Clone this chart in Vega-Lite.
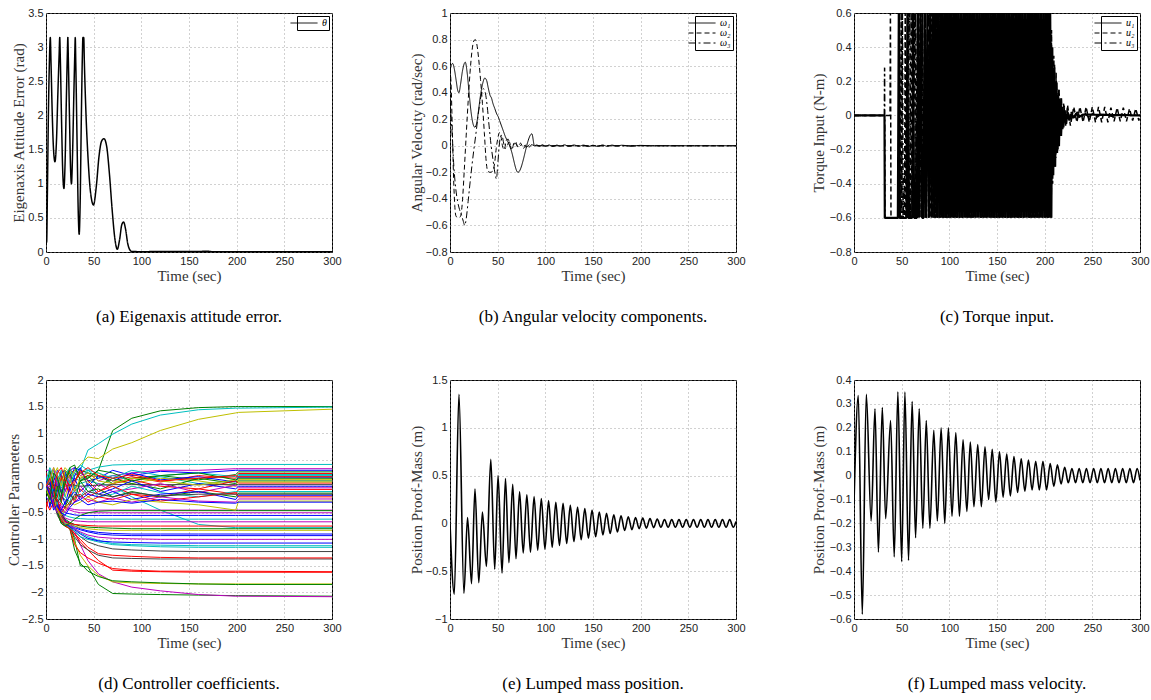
{
"$schema": "https://vega.github.io/schema/vega-lite/v6.json",
"background": "white",
"padding": {"left": 5, "top": 6, "right": 5, "bottom": 5},
"config": {
 "view": {"stroke": "black", "strokeWidth": 1},
 "axis": {"grid": true, "gridColor": "#8c8c8c", "gridDash": [1,3], "gridWidth": 0.8, "domain": false, "ticks": false, "labelFont": "Liberation Sans", "labelFontSize": 11, "labelColor": "#222", "labelPadding": 3, "labelFlush": false, "labelOverlap": false, "titleFont": "Liberation Serif", "titleFontSize": 15, "titleFontWeight": "normal", "titleColor": "#333", "format": "~g"},
 "axisX": {"titlePadding": 2, "format": "d"},
 "axisY": {"titlePadding": 1},
 "title": {"orient": "bottom", "anchor": "middle", "frame": "group", "font": "Liberation Serif", "fontSize": 17, "fontWeight": "normal", "color": "black", "offset": 26},
 "legend": {"orient": "top-right", "offset": 3, "padding": 2, "strokeColor": "black", "fillColor": "white", "symbolType": "M-3,0H3", "symbolStrokeColor": "black", "symbolFillColor": "transparent", "symbolStrokeWidth": 1, "symbolSize": 81, "labelFont": "Liberation Serif", "labelFontStyle": "italic", "labelFontSize": 10, "labelColor": "black", "rowPadding": -1, "labelOffset": 13}
},
"datasets": {
 "a": [{"t":0,"v":0.13},{"t":0.7,"v":0.15},{"t":1.5,"v":0.9},{"t":2.5,"v":2.0},{"t":3.5,"v":2.75},{"t":4.5,"v":3.14},{"t":5.3,"v":2.75},{"t":6.5,"v":2.05},{"t":7.9,"v":1.5},{"t":9.4,"v":1.32},{"t":10.9,"v":1.6},{"t":12.4,"v":2.3},{"t":13.8,"v":2.9},{"t":14.4,"v":3.14},{"t":15.0,"v":2.85},{"t":16.2,"v":2.0},{"t":17.5,"v":1.2},{"t":18.8,"v":0.93},{"t":20.0,"v":1.3},{"t":21.3,"v":2.2},{"t":22.4,"v":2.9},{"t":22.9,"v":3.14},{"t":23.4,"v":2.85},{"t":24.6,"v":2.0},{"t":25.7,"v":1.25},{"t":26.7,"v":1.0},{"t":27.8,"v":1.4},{"t":29.2,"v":2.3},{"t":30.2,"v":2.9},{"t":30.7,"v":3.14},{"t":31.2,"v":2.8},{"t":32.6,"v":1.6},{"t":33.8,"v":0.6},{"t":34.8,"v":0.26},{"t":35.8,"v":0.7},{"t":37.1,"v":2.0},{"t":38.2,"v":2.9},{"t":38.7,"v":3.14},{"t":39.6,"v":3.14},{"t":40.2,"v":2.8},{"t":42,"v":2.0},{"t":44,"v":1.4},{"t":46.5,"v":0.9},{"t":49.8,"v":0.69},{"t":52.7,"v":0.95},{"t":55.6,"v":1.4},{"t":58.2,"v":1.62},{"t":60.8,"v":1.66},{"t":63.6,"v":1.55},{"t":66.5,"v":1.15},{"t":69.5,"v":0.6},{"t":72.2,"v":0.2},{"t":74.8,"v":0.04},{"t":77.2,"v":0.18},{"t":79.5,"v":0.4},{"t":81.4,"v":0.44},{"t":83.4,"v":0.34},{"t":85.8,"v":0.12},{"t":88,"v":0.03},{"t":90,"v":0.008},{"t":100,"v":0.005},{"t":130,"v":0.008},{"t":150,"v":0.006},{"t":170,"v":0.01},{"t":175,"v":0.004},{"t":200,"v":0.003},{"t":300,"v":0.002}],
 "b": [
  {"s":"ω₁","t":0,"v":0.56},{"s":"ω₁","t":1.5,"v":0.61},{"s":"ω₁","t":2.8,"v":0.62},{"s":"ω₁","t":4.5,"v":0.58},{"s":"ω₁","t":6.5,"v":0.49},{"s":"ω₁","t":8,"v":0.42},{"s":"ω₁","t":9.4,"v":0.4},{"s":"ω₁","t":11,"v":0.46},{"s":"ω₁","t":13,"v":0.56},{"s":"ω₁","t":15,"v":0.62},{"s":"ω₁","t":16,"v":0.63},{"s":"ω₁","t":18,"v":0.55},{"s":"ω₁","t":20,"v":0.4},{"s":"ω₁","t":22,"v":0.26},{"s":"ω₁","t":24,"v":0.17},{"s":"ω₁","t":26,"v":0.14},{"s":"ω₁","t":28,"v":0.17},{"s":"ω₁","t":30,"v":0.27},{"s":"ω₁","t":32,"v":0.38},{"s":"ω₁","t":34,"v":0.46},{"s":"ω₁","t":36.5,"v":0.51},{"s":"ω₁","t":38.5,"v":0.49},{"s":"ω₁","t":40,"v":0.44},{"s":"ω₁","t":42,"v":0.38},{"s":"ω₁","t":43.5,"v":0.36},{"s":"ω₁","t":45,"v":0.32},{"s":"ω₁","t":47,"v":0.28},{"s":"ω₁","t":49,"v":0.24},{"s":"ω₁","t":50.5,"v":0.22},{"s":"ω₁","t":52,"v":0.19},{"s":"ω₁","t":54,"v":0.15},{"s":"ω₁","t":56,"v":0.11},{"s":"ω₁","t":58,"v":0.07},{"s":"ω₁","t":60,"v":0.04},{"s":"ω₁","t":62,"v":0.01},{"s":"ω₁","t":64,"v":-0.03},{"s":"ω₁","t":71.3,"v":-0.2},{"s":"ω₁","t":85.9,"v":0.09},{"s":"ω₁","t":88.6,"v":0.0},{"s":"ω₁","t":91,"v":0.006},{"s":"ω₁","t":94,"v":-0.004},{"s":"ω₁","t":97,"v":0.008},{"s":"ω₁","t":100,"v":-0.005},{"s":"ω₁","t":104,"v":0.006},{"s":"ω₁","t":108,"v":-0.006},{"s":"ω₁","t":112,"v":0.005},{"s":"ω₁","t":116,"v":-0.004},{"s":"ω₁","t":120,"v":0.007},{"s":"ω₁","t":125,"v":-0.005},{"s":"ω₁","t":130,"v":0.006},{"s":"ω₁","t":135,"v":-0.004},{"s":"ω₁","t":140,"v":0.005},{"s":"ω₁","t":145,"v":-0.006},{"s":"ω₁","t":150,"v":0.004},{"s":"ω₁","t":155,"v":-0.005},{"s":"ω₁","t":160,"v":0.006},{"s":"ω₁","t":165,"v":-0.004},{"s":"ω₁","t":170,"v":0.005},{"s":"ω₁","t":175,"v":-0.003},{"s":"ω₁","t":180,"v":0.004},{"s":"ω₁","t":190,"v":-0.003},{"s":"ω₁","t":200,"v":0.003},{"s":"ω₁","t":210,"v":0},{"s":"ω₁","t":300,"v":0},
  {"s":"ω₂","t":0,"v":0.58},{"s":"ω₂","t":1.2,"v":0.45},{"s":"ω₂","t":2.5,"v":0.1},{"s":"ω₂","t":3.8,"v":-0.25},{"s":"ω₂","t":5,"v":-0.45},{"s":"ω₂","t":6.3,"v":-0.53},{"s":"ω₂","t":8,"v":-0.54},{"s":"ω₂","t":10,"v":-0.54},{"s":"ω₂","t":11.5,"v":-0.52},{"s":"ω₂","t":13,"v":-0.42},{"s":"ω₂","t":15,"v":-0.18},{"s":"ω₂","t":17,"v":0.08},{"s":"ω₂","t":19,"v":0.33},{"s":"ω₂","t":21,"v":0.55},{"s":"ω₂","t":23,"v":0.71},{"s":"ω₂","t":25,"v":0.79},{"s":"ω₂","t":26.5,"v":0.8},{"s":"ω₂","t":28,"v":0.77},{"s":"ω₂","t":30,"v":0.66},{"s":"ω₂","t":32,"v":0.5},{"s":"ω₂","t":34,"v":0.32},{"s":"ω₂","t":36,"v":0.1},{"s":"ω₂","t":38,"v":-0.12},{"s":"ω₂","t":39.5,"v":-0.19},{"s":"ω₂","t":42,"v":-0.2},{"s":"ω₂","t":45,"v":-0.19},{"s":"ω₂","t":47,"v":-0.12},{"s":"ω₂","t":48.5,"v":-0.02},{"s":"ω₂","t":50,"v":0.05},{"s":"ω₂","t":52,"v":0.1},{"s":"ω₂","t":53.5,"v":0.07},{"s":"ω₂","t":55,"v":0.0},{"s":"ω₂","t":57,"v":-0.03},{"s":"ω₂","t":59,"v":0.04},{"s":"ω₂","t":61,"v":0.05},{"s":"ω₂","t":63,"v":0.0},{"s":"ω₂","t":65,"v":-0.03},{"s":"ω₂","t":67,"v":0.02},{"s":"ω₂","t":69,"v":0.03},{"s":"ω₂","t":71,"v":-0.01},{"s":"ω₂","t":74,"v":0.02},{"s":"ω₂","t":77,"v":-0.02},{"s":"ω₂","t":80,"v":0.01},{"s":"ω₂","t":83,"v":-0.01},{"s":"ω₂","t":86,"v":0.01},{"s":"ω₂","t":90,"v":0},{"s":"ω₂","t":300,"v":0},
  {"s":"ω₃","t":0,"v":0.35},{"s":"ω₃","t":2,"v":0.12},{"s":"ω₃","t":4,"v":-0.15},{"s":"ω₃","t":6,"v":-0.32},{"s":"ω₃","t":8,"v":-0.42},{"s":"ω₃","t":10,"v":-0.48},{"s":"ω₃","t":12,"v":-0.52},{"s":"ω₃","t":14,"v":-0.57},{"s":"ω₃","t":15.5,"v":-0.6},{"s":"ω₃","t":17,"v":-0.55},{"s":"ω₃","t":19,"v":-0.42},{"s":"ω₃","t":21,"v":-0.28},{"s":"ω₃","t":23,"v":-0.15},{"s":"ω₃","t":25,"v":-0.03},{"s":"ω₃","t":27,"v":0.08},{"s":"ω₃","t":29,"v":0.2},{"s":"ω₃","t":31,"v":0.31},{"s":"ω₃","t":33,"v":0.39},{"s":"ω₃","t":35,"v":0.43},{"s":"ω₃","t":37,"v":0.4},{"s":"ω₃","t":39,"v":0.3},{"s":"ω₃","t":41,"v":0.15},{"s":"ω₃","t":43,"v":0.01},{"s":"ω₃","t":45,"v":-0.1},{"s":"ω₃","t":47,"v":-0.2},{"s":"ω₃","t":48.7,"v":-0.25},{"s":"ω₃","t":50,"v":-0.15},{"s":"ω₃","t":51.5,"v":-0.01},{"s":"ω₃","t":53,"v":0.07},{"s":"ω₃","t":54.5,"v":0.08},{"s":"ω₃","t":56,"v":0.03},{"s":"ω₃","t":58,"v":-0.02},{"s":"ω₃","t":60,"v":0.0},{"s":"ω₃","t":62,"v":0.03},{"s":"ω₃","t":65,"v":-0.02},{"s":"ω₃","t":68,"v":0.02},{"s":"ω₃","t":72,"v":-0.01},{"s":"ω₃","t":76,"v":0.015},{"s":"ω₃","t":80,"v":-0.01},{"s":"ω₃","t":84,"v":0.01},{"s":"ω₃","t":90,"v":0},{"s":"ω₃","t":300,"v":0}
 ],
 "u1": [{"t":0,"v":0},{"t":32,"v":0},{"t":32.3,"v":-0.6},{"t":46,"v":-0.6},{"t":47,"v":0.6},{"t":48,"v":-0.6},{"t":55,"v":-0.6},{"t":56,"v":0.6},{"t":57,"v":-0.6},{"t":61,"v":-0.6},{"t":62,"v":0.6},{"t":63,"v":-0.6},{"t":66,"v":-0.6},{"t":67,"v":0.6},{"t":68,"v":-0.6},{"t":70,"v":0.6},{"t":71.5,"v":-0.6},{"t":73,"v":-0.6},{"t":74,"v":0.6},{"t":75.5,"v":-0.6},{"t":77,"v":0.6},{"t":78.5,"v":-0.6},{"t":80,"v":0.6},{"t":81.4,"v":-0.6},{"t":82.8,"v":0.6},{"t":84.2,"v":-0.6},{"t":85.5,"v":0.6},{"t":86.8,"v":-0.6},{"t":88.1,"v":0.6},{"t":89.4,"v":-0.6},{"t":90.6,"v":0.6},{"t":91.8,"v":-0.6},{"t":93,"v":0.6},{"t":94.2,"v":-0.6},{"t":95.4,"v":0.6},{"t":96.6,"v":-0.6},{"t":97.8,"v":0.6},{"t":99,"v":-0.6},{"t":100.2,"v":0.6},{"t":101.4,"v":-0.6},{"t":102.6,"v":0.6},{"t":103.8,"v":-0.6},{"t":105,"v":0.6},{"t":106.2,"v":-0.6},{"t":107.4,"v":0.6},{"t":108.6,"v":-0.6},{"t":109.8,"v":0.6},{"t":111,"v":-0.6},{"t":112.2,"v":0.6},{"t":113.4,"v":-0.6},{"t":114.6,"v":0.6},{"t":115.8,"v":-0.6},{"t":117,"v":0.6},{"t":118.2,"v":-0.6},{"t":119.4,"v":0.6},{"t":120.6,"v":-0.6},{"t":121.8,"v":0.6},{"t":123,"v":-0.6},{"t":124.2,"v":0.6},{"t":125.4,"v":-0.6},{"t":126.6,"v":0.6},{"t":127.8,"v":-0.6},{"t":129,"v":0.6},{"t":130.2,"v":-0.6},{"t":131.4,"v":0.6},{"t":132.6,"v":-0.6},{"t":133.8,"v":0.6},{"t":135,"v":-0.6},{"t":136.2,"v":0.6},{"t":137.4,"v":-0.6},{"t":138.6,"v":0.6},{"t":139.8,"v":-0.6},{"t":141,"v":0.6},{"t":142.2,"v":-0.6},{"t":143.4,"v":0.6},{"t":144.6,"v":-0.6},{"t":145.8,"v":0.6},{"t":147,"v":-0.6},{"t":148.2,"v":0.6},{"t":149.4,"v":-0.6},{"t":150.6,"v":0.6},{"t":151.8,"v":-0.6},{"t":153,"v":0.6},{"t":154.2,"v":-0.6},{"t":155.4,"v":0.6},{"t":156.6,"v":-0.6},{"t":157.8,"v":0.6},{"t":159,"v":-0.6},{"t":160.2,"v":0.6},{"t":161.4,"v":-0.6},{"t":162.6,"v":0.6},{"t":163.8,"v":-0.6},{"t":165,"v":0.6},{"t":166.2,"v":-0.6},{"t":167.4,"v":0.6},{"t":168.6,"v":-0.6},{"t":169.8,"v":0.6},{"t":171,"v":-0.6},{"t":172.2,"v":0.6},{"t":173.4,"v":-0.6},{"t":174.6,"v":0.6},{"t":175.8,"v":-0.6},{"t":177,"v":0.6},{"t":178.2,"v":-0.6},{"t":179.4,"v":0.6},{"t":180.6,"v":-0.6},{"t":181.8,"v":0.6},{"t":183,"v":-0.6},{"t":184.2,"v":0.6},{"t":185.4,"v":-0.6},{"t":186.6,"v":0.6},{"t":187.8,"v":-0.6},{"t":189,"v":0.6},{"t":190.2,"v":-0.6},{"t":191.4,"v":0.6},{"t":192.6,"v":-0.6},{"t":193.8,"v":0.6},{"t":195,"v":-0.6},{"t":196.2,"v":0.6},{"t":197.4,"v":-0.6},{"t":198.6,"v":0.6},{"t":199.8,"v":-0.6},{"t":201,"v":0.6},{"t":202.2,"v":-0.6},{"t":203.4,"v":0.6},{"t":204.6,"v":-0.6},{"t":205.8,"v":0.6},{"t":207,"v":-0.6},{"t":208,"v":0.4},{"t":209,"v":-0.35},{"t":210,"v":0.28},{"t":211,"v":-0.3},{"t":212,"v":0.2},{"t":213,"v":-0.22},{"t":214,"v":0.12},{"t":215,"v":-0.18},{"t":216,"v":0.08},{"t":217.2,"v":-0.12},{"t":218.4,"v":0.05},{"t":219.6,"v":-0.07},{"t":221,"v":0.03},{"t":222.5,"v":-0.05},{"t":224,"v":0.02},{"t":226,"v":-0.03},{"t":228,"v":0.01},{"t":230,"v":-0.015},{"t":233,"v":0.01},{"t":236,"v":-0.01},{"t":240,"v":0.005},{"t":300,"v":0}],
 "u2": [{"t":0,"v":0},{"t":37.8,"v":0},{"t":38.2,"v":0.6},{"t":38.8,"v":-0.6},{"t":47,"v":-0.6},{"t":47.6,"v":0.6},{"t":48.4,"v":-0.6},{"t":49.5,"v":0.6},{"t":50.3,"v":-0.6},{"t":53,"v":-0.6},{"t":53.7,"v":0.6},{"t":54.5,"v":-0.6},{"t":57,"v":0.6},{"t":58,"v":-0.6},{"t":60,"v":0.6},{"t":61,"v":-0.6},{"t":63.5,"v":0.6},{"t":64.5,"v":-0.6},{"t":66.5,"v":0.6},{"t":67.5,"v":-0.6},{"t":69.3,"v":0.6},{"t":70.3,"v":-0.6},{"t":72,"v":0.6},{"t":73,"v":-0.6},{"t":74.6,"v":0.6},{"t":75.6,"v":-0.6},{"t":77.2,"v":0.6},{"t":78.2,"v":-0.6},{"t":79.6,"v":0.6},{"t":80.6,"v":-0.6},{"t":82,"v":0.6},{"t":83,"v":-0.6},{"t":84.3,"v":0.6},{"t":85.3,"v":-0.6},{"t":86.5,"v":0.6},{"t":87.5,"v":-0.6},{"t":88.7,"v":0.6},{"t":89.7,"v":-0.6},{"t":90.9,"v":0.6},{"t":91.9,"v":-0.6},{"t":93,"v":0.6},{"t":94,"v":-0.6},{"t":95.4,"v":0.6},{"t":96.8,"v":-0.6},{"t":98.2,"v":0.6},{"t":99.6,"v":-0.6},{"t":101,"v":0.6},{"t":102.4,"v":-0.6},{"t":103.8,"v":0.6},{"t":105.2,"v":-0.6},{"t":106.6,"v":0.6},{"t":108,"v":-0.6},{"t":109.4,"v":0.6},{"t":110.8,"v":-0.6},{"t":112.2,"v":0.6},{"t":113.6,"v":-0.6},{"t":115,"v":0.6},{"t":116.4,"v":-0.6},{"t":117.8,"v":0.6},{"t":119.2,"v":-0.6},{"t":120.6,"v":0.6},{"t":122,"v":-0.6},{"t":123.4,"v":0.6},{"t":124.8,"v":-0.6},{"t":126.2,"v":0.6},{"t":127.6,"v":-0.6},{"t":129,"v":0.6},{"t":130.4,"v":-0.6},{"t":131.8,"v":0.6},{"t":133.2,"v":-0.6},{"t":134.6,"v":0.6},{"t":136,"v":-0.6},{"t":137.4,"v":0.6},{"t":138.8,"v":-0.6},{"t":140.2,"v":0.6},{"t":141.6,"v":-0.6},{"t":143,"v":0.6},{"t":144.4,"v":-0.6},{"t":145.8,"v":0.6},{"t":147.2,"v":-0.6},{"t":148.6,"v":0.6},{"t":150,"v":-0.6},{"t":151.4,"v":0.6},{"t":152.8,"v":-0.6},{"t":154.2,"v":0.6},{"t":155.6,"v":-0.6},{"t":157,"v":0.6},{"t":158.4,"v":-0.6},{"t":159.8,"v":0.6},{"t":161.2,"v":-0.6},{"t":162.6,"v":0.6},{"t":164,"v":-0.6},{"t":165.4,"v":0.6},{"t":166.8,"v":-0.6},{"t":168.2,"v":0.6},{"t":169.6,"v":-0.6},{"t":171,"v":0.6},{"t":172.4,"v":-0.6},{"t":173.8,"v":0.6},{"t":175.2,"v":-0.6},{"t":176.6,"v":0.6},{"t":178,"v":-0.6},{"t":179.4,"v":0.6},{"t":180.8,"v":-0.6},{"t":182.2,"v":0.6},{"t":183.6,"v":-0.6},{"t":185,"v":0.6},{"t":186.4,"v":-0.6},{"t":187.8,"v":0.6},{"t":189.2,"v":-0.6},{"t":190.6,"v":0.6},{"t":192,"v":-0.6},{"t":193.4,"v":0.6},{"t":194.8,"v":-0.6},{"t":196.2,"v":0.6},{"t":197.6,"v":-0.6},{"t":199,"v":0.6},{"t":200.4,"v":-0.6},{"t":201.8,"v":0.6},{"t":203.2,"v":-0.6},{"t":204.6,"v":0.6},{"t":206,"v":-0.6},{"t":207.2,"v":0.5},{"t":208.4,"v":-0.4},{"t":209.6,"v":0.35},{"t":210.8,"v":-0.3},{"t":212,"v":0.25},{"t":213.2,"v":-0.2},{"t":214.4,"v":0.15},{"t":215.6,"v":-0.12},{"t":217,"v":0.1},{"t":218.4,"v":-0.08},{"t":220,"v":0.07},{"t":222,"v":-0.06},{"t":224,"v":0.06},{"t":227,"v":-0.06},{"t":230.5,"v":0.05},{"t":233.8,"v":-0.04},{"t":237,"v":0.05},{"t":240.3,"v":-0.04},{"t":243.5,"v":0.05},{"t":246.8,"v":-0.04},{"t":250,"v":0.05},{"t":253.3,"v":-0.04},{"t":256.5,"v":0.05},{"t":259.8,"v":-0.04},{"t":263,"v":0.05},{"t":266.3,"v":-0.04},{"t":269.5,"v":0.045},{"t":272.8,"v":-0.035},{"t":276,"v":0.045},{"t":279.3,"v":-0.035},{"t":282.5,"v":0.045},{"t":285.8,"v":-0.035},{"t":289,"v":0.04},{"t":292.3,"v":-0.03},{"t":295.5,"v":0.04},{"t":298.8,"v":-0.03},{"t":300,"v":0}],
 "u3": [{"t":0,"v":0},{"t":31.8,"v":0},{"t":32.1,"v":0.28},{"t":32.5,"v":-0.6},{"t":50,"v":-0.6},{"t":50.8,"v":0.6},{"t":51.6,"v":-0.6},{"t":58.5,"v":0.6},{"t":59.3,"v":-0.6},{"t":64.5,"v":0.6},{"t":65.3,"v":-0.6},{"t":68,"v":0.6},{"t":69,"v":-0.6},{"t":71.5,"v":0.6},{"t":72.5,"v":-0.6},{"t":75,"v":0.6},{"t":76,"v":-0.6},{"t":78.3,"v":0.6},{"t":79.3,"v":-0.6},{"t":81.3,"v":0.6},{"t":82.3,"v":-0.6},{"t":84,"v":0.6},{"t":85,"v":-0.6},{"t":86.8,"v":0.6},{"t":87.8,"v":-0.6},{"t":89.4,"v":0.6},{"t":90.4,"v":-0.6},{"t":92,"v":0.6},{"t":93,"v":-0.6},{"t":94.6,"v":0.6},{"t":95.6,"v":-0.6},{"t":97.1,"v":0.6},{"t":98.1,"v":-0.6},{"t":99.6,"v":0.6},{"t":101.2,"v":-0.6},{"t":102.8,"v":0.6},{"t":104.4,"v":-0.6},{"t":106,"v":0.6},{"t":107.6,"v":-0.6},{"t":109.2,"v":0.6},{"t":110.8,"v":-0.6},{"t":112.4,"v":0.6},{"t":114,"v":-0.6},{"t":115.6,"v":0.6},{"t":117.2,"v":-0.6},{"t":118.8,"v":0.6},{"t":120.4,"v":-0.6},{"t":122,"v":0.6},{"t":123.6,"v":-0.6},{"t":125.2,"v":0.6},{"t":126.8,"v":-0.6},{"t":128.4,"v":0.6},{"t":130,"v":-0.6},{"t":131.6,"v":0.6},{"t":133.2,"v":-0.6},{"t":134.8,"v":0.6},{"t":136.4,"v":-0.6},{"t":138,"v":0.6},{"t":139.6,"v":-0.6},{"t":141.2,"v":0.6},{"t":142.8,"v":-0.6},{"t":144.4,"v":0.6},{"t":146,"v":-0.6},{"t":147.6,"v":0.6},{"t":149.2,"v":-0.6},{"t":150.8,"v":0.6},{"t":152.4,"v":-0.6},{"t":154,"v":0.6},{"t":155.6,"v":-0.6},{"t":157.2,"v":0.6},{"t":158.8,"v":-0.6},{"t":160.4,"v":0.6},{"t":162,"v":-0.6},{"t":163.6,"v":0.6},{"t":165.2,"v":-0.6},{"t":166.8,"v":0.6},{"t":168.4,"v":-0.6},{"t":170,"v":0.6},{"t":171.6,"v":-0.6},{"t":173.2,"v":0.6},{"t":174.8,"v":-0.6},{"t":176.4,"v":0.6},{"t":178,"v":-0.6},{"t":179.6,"v":0.6},{"t":181.2,"v":-0.6},{"t":182.8,"v":0.6},{"t":184.4,"v":-0.6},{"t":186,"v":0.6},{"t":187.6,"v":-0.6},{"t":189.2,"v":0.6},{"t":190.8,"v":-0.6},{"t":192.4,"v":0.6},{"t":194,"v":-0.6},{"t":195.6,"v":0.6},{"t":197.2,"v":-0.6},{"t":198.8,"v":0.6},{"t":200.4,"v":-0.6},{"t":202,"v":0.6},{"t":203.6,"v":-0.6},{"t":205.2,"v":0.6},{"t":206.8,"v":-0.6},{"t":208,"v":0.35},{"t":209.2,"v":-0.3},{"t":210.4,"v":0.3},{"t":211.6,"v":-0.25},{"t":212.8,"v":0.2},{"t":214,"v":-0.2},{"t":215.2,"v":0.15},{"t":216.4,"v":-0.12},{"t":217.6,"v":0.1},{"t":219,"v":-0.08},{"t":220.5,"v":0.06},{"t":222,"v":-0.05},{"t":224,"v":0.03},{"t":226,"v":-0.03},{"t":228,"v":0.02},{"t":231,"v":-0.02},{"t":234,"v":0.02},{"t":238,"v":-0.015},{"t":242,"v":0.015},{"t":246,"v":-0.01},{"t":250,"v":0.01},{"t":255,"v":-0.01},{"t":260,"v":0.01},{"t":270,"v":-0.005},{"t":280,"v":0.005},{"t":300,"v":0}],
 "d": [
  {"t":0,"c01":0,"c02":0,"c03":0,"c04":0,"c05":0,"c06":0,"c07":0,"c08":0,"c09":0,"c10":0,"c11":0,"c12":0,"c13":0,"c14":0,"c15":0,"c16":0,"c17":0,"c18":0,"c19":0,"c20":0,"c21":0,"c22":0,"c23":0,"c24":0,"c25":0,"c26":0,"c27":0,"c28":0,"c29":0,"c30":0.3,"c31":-0.2,"c32":0,"c33":0.25,"c34":0,"c35":0,"c36":0,"c37":0,"c38":-0.45,"c39":0,"c40":0.2,"c41":0,"c42":0,"c43":0,"c44":0,"c45":0,"c46":-0.3,"c47":0,"c48":0,"c49":0,"c50":0.1,"c51":0,"c52":0,"c53":-0.1,"c54":0},
  {"t":4,"c01":0.1,"c02":-0.1,"c03":0.2,"c04":0.1,"c05":-0.1,"c06":-0.1,"c07":-0.2,"c08":-0.1,"c09":0.1,"c10":-0.15,"c11":-0.05,"c12":-0.1,"c13":0.05,"c14":-0.2,"c15":-0.1,"c16":0.1,"c17":-0.15,"c18":0.05,"c19":-0.1,"c20":0.1,"c21":-0.2,"c22":-0.05,"c23":0.1,"c24":-0.1,"c25":0.15,"c26":-0.2,"c27":0.1,"c28":-0.1,"c29":0.05,"c30":0.3,"c31":-0.3,"c32":0.2,"c33":-0.35,"c34":0.25,"c35":0.1,"c36":-0.2,"c37":0.3,"c38":-0.1,"c39":0.05,"c40":-0.4,"c41":0.15,"c42":-0.25,"c43":0.2,"c44":-0.3,"c45":0.1,"c46":-0.45,"c47":0,"c48":-0.3,"c49":-0.15,"c50":0.35,"c51":0.1,"c52":-0.05,"c53":-0.25,"c54":0.15},
  {"t":8,"c01":-0.2,"c02":0.2,"c03":0.3,"c04":-0.2,"c05":0.1,"c06":-0.3,"c07":-0.1,"c08":-0.25,"c09":-0.2,"c10":-0.3,"c11":-0.2,"c12":-0.3,"c13":-0.25,"c14":-0.3,"c15":-0.15,"c16":-0.2,"c17":-0.35,"c18":-0.2,"c19":-0.3,"c20":-0.1,"c21":-0.25,"c22":-0.2,"c23":-0.15,"c24":-0.3,"c25":-0.1,"c26":-0.25,"c27":-0.2,"c28":-0.15,"c29":-0.3,"c30":0.1,"c31":0.1,"c32":-0.1,"c33":-0.2,"c34":0.3,"c35":-0.3,"c36":0.2,"c37":0,"c38":-0.4,"c39":0.02,"c40":-0.1,"c41":0.35,"c42":-0.1,"c43":-0.2,"c44":-0.35,"c45":-0.25,"c46":-0.3,"c47":-0.35,"c48":-0.2,"c49":-0.45,"c50":0.2,"c51":0.35,"c52":-0.2,"c53":0.25,"c54":-0.05},
  {"t":12,"c01":0.05,"c02":0.1,"c03":-0.1,"c04":0.2,"c05":0,"c06":-0.5,"c07":-0.4,"c08":-0.45,"c09":-0.5,"c10":-0.5,"c11":-0.45,"c12":-0.4,"c13":-0.5,"c14":-0.55,"c15":-0.4,"c16":-0.35,"c17":-0.5,"c18":-0.45,"c19":-0.4,"c20":-0.3,"c21":-0.45,"c22":-0.35,"c23":-0.4,"c24":-0.35,"c25":-0.3,"c26":-0.3,"c27":-0.25,"c28":-0.3,"c29":-0.5,"c30":0.2,"c31":0.3,"c32":-0.2,"c33":0.1,"c34":0.05,"c35":-0.1,"c36":0.35,"c37":-0.3,"c38":-0.2,"c39":0,"c40":0.2,"c41":0,"c42":-0.45,"c43":-0.35,"c44":0,"c45":-0.4,"c46":-0.25,"c47":-0.5,"c48":-0.45,"c49":-0.35,"c50":0.1,"c51":0.2,"c52":-0.3,"c53":0.15,"c54":0.25},
  {"t":16,"c01":-0.3,"c02":0.3,"c03":0.2,"c04":0.1,"c05":-0.1,"c06":-0.65,"c07":-0.6,"c08":-0.6,"c09":-0.7,"c10":-0.65,"c11":-0.6,"c12":-0.6,"c13":-0.62,"c14":-0.68,"c15":-0.55,"c16":-0.5,"c17":-0.6,"c18":-0.58,"c19":-0.55,"c20":-0.5,"c21":-0.6,"c22":-0.52,"c23":-0.55,"c24":-0.48,"c25":-0.45,"c26":-0.42,"c27":-0.35,"c28":-0.38,"c29":-0.7,"c30":-0.1,"c31":0.2,"c32":0.1,"c33":0.2,"c34":-0.3,"c35":0.25,"c36":0.1,"c37":-0.2,"c38":0.15,"c39":-0.02,"c40":-0.1,"c41":-0.25,"c42":-0.3,"c43":0.1,"c44":-0.3,"c45":-0.45,"c46":-0.5,"c47":-0.4,"c48":-0.55,"c49":-0.5,"c50":0.3,"c51":0,"c52":-0.2,"c53":-0.15,"c54":0.35},
  {"t":20,"c01":0.1,"c02":0.2,"c03":0.35,"c04":0.25,"c05":0.05,"c06":-0.75,"c07":-0.7,"c08":-0.72,"c09":-0.75,"c10":-0.75,"c11":-0.7,"c12":-0.72,"c13":-0.74,"c14":-0.7,"c15":-0.72,"c16":-0.65,"c17":-0.7,"c18":-0.68,"c19":-0.66,"c20":-0.64,"c21":-0.7,"c22":-0.62,"c23":-0.66,"c24":-0.6,"c25":-0.55,"c26":-0.5,"c27":-0.42,"c28":-0.4,"c29":-0.75,"c30":0.15,"c31":-0.1,"c32":0.3,"c33":0.05,"c34":0.2,"c35":0.3,"c36":-0.2,"c37":0.2,"c38":0.1,"c39":0,"c40":-0.35,"c41":-0.1,"c42":0.05,"c43":-0.2,"c44":-0.4,"c45":-0.3,"c46":-0.4,"c47":-0.5,"c48":-0.45,"c49":-0.55,"c50":0.2,"c51":0.3,"c52":-0.25,"c53":0.05,"c54":0.15},
  {"t":25,"c01":0.2,"c02":0.3,"c03":0.25,"c04":0.3,"c05":0.1,"c06":-0.75,"c07":-0.78,"c08":-0.8,"c09":-0.8,"c10":-0.8,"c11":-0.76,"c12":-0.78,"c13":-0.78,"c14":-0.77,"c15":-0.78,"c16":-0.75,"c17":-0.76,"c18":-0.74,"c19":-0.72,"c20":-0.7,"c21":-0.72,"c22":-0.68,"c23":-0.7,"c24":-0.63,"c25":-0.58,"c26":-0.52,"c27":-0.45,"c28":-0.42,"c29":-0.7,"c30":0.3,"c31":0.1,"c32":0.2,"c33":0.3,"c34":0.35,"c35":-0.1,"c36":0.1,"c37":0.25,"c38":-0.2,"c39":0.03,"c40":0,"c41":0.2,"c42":-0.1,"c43":-0.3,"c44":-0.15,"c45":-0.2,"c46":-0.3,"c47":-0.35,"c48":-0.3,"c49":-0.4,"c50":0.05,"c51":0.15,"c52":-0.35,"c53":0.35,"c54":0},
  {"t":30,"c01":0.3,"c02":0.35,"c03":0.3,"c04":0.2,"c05":0,"c06":-1.0,"c07":-0.85,"c08":-1.05,"c09":-1.2,"c10":-1.1,"c11":-0.9,"c12":-0.95,"c13":-0.9,"c14":-0.85,"c15":-0.85,"c16":-0.8,"c17":-0.82,"c18":-0.8,"c19":-0.78,"c20":-0.75,"c21":-0.75,"c22":-0.72,"c23":-0.72,"c24":-0.65,"c25":-0.6,"c26":-0.54,"c27":-0.48,"c28":-0.44,"c29":-0.62,"c30":0.35,"c31":0.35,"c32":0.1,"c33":0.25,"c34":0.15,"c35":0.2,"c36":0.3,"c37":-0.05,"c38":0.05,"c39":0.02,"c40":0.15,"c41":-0.1,"c42":-0.3,"c43":0,"c44":-0.25,"c45":-0.1,"c46":-0.2,"c47":-0.3,"c48":-0.35,"c49":-0.3,"c50":0.25,"c51":-0.1,"c52":-0.15,"c53":0.4,"c54":0.1},
  {"t":36,"c01":0.25,"c02":0.3,"c03":0.4,"c04":0.25,"c05":0.05,"c06":-1.5,"c07":-1.1,"c08":-1.3,"c09":-1.45,"c10":-1.25,"c11":-1.05,"c12":-1.1,"c13":-1.0,"c14":-0.95,"c15":-0.95,"c16":-0.88,"c17":-0.9,"c18":-0.86,"c19":-0.82,"c20":-0.8,"c21":-0.78,"c22":-0.75,"c23":-0.73,"c24":-0.66,"c25":-0.61,"c26":-0.55,"c27":-0.5,"c28":-0.45,"c29":-0.55,"c30":0.2,"c31":0.3,"c32":0.3,"c33":0.15,"c34":0.1,"c35":0.35,"c36":0.2,"c37":0.1,"c38":0.3,"c39":0,"c40":-0.1,"c41":0,"c42":-0.05,"c43":-0.2,"c44":0.1,"c45":-0.25,"c46":-0.15,"c47":-0.2,"c48":-0.3,"c49":-0.25,"c50":0.4,"c51":0.15,"c52":-0.2,"c53":0.1,"c54":0.25},
  {"t":44,"c01":0.15,"c02":0.68,"c03":0.55,"c04":0.3,"c05":0.1,"c06":-1.52,"c07":-1.4,"c08":-1.5,"c09":-1.6,"c10":-1.35,"c11":-1.2,"c12":-1.2,"c13":-1.15,"c14":-1.05,"c15":-1.0,"c16":-0.95,"c17":-0.98,"c18":-0.92,"c19":-0.86,"c20":-0.84,"c21":-0.8,"c22":-0.77,"c23":-0.74,"c24":-0.67,"c25":-0.62,"c26":-0.55,"c27":-0.5,"c28":-0.45,"c29":-0.5,"c30":0.25,"c31":0.1,"c32":0.25,"c33":0.2,"c34":0.3,"c35":0,"c36":0.05,"c37":0.2,"c38":0.1,"c39":0.01,"c40":0.05,"c41":-0.15,"c42":-0.2,"c43":0,"c44":-0.1,"c45":-0.15,"c46":-0.3,"c47":-0.25,"c48":-0.2,"c49":-0.35,"c50":0.3,"c51":0.25,"c52":-0.1,"c53":0.15,"c54":0.35},
  {"t":55,"c01":0.3,"c02":0.8,"c03":0.52,"c04":0.36,"c05":0.05,"c06":-1.85,"c07":-1.65,"c08":-1.68,"c09":-1.7,"c10":-1.45,"c11":-1.4,"c12":-1.3,"c13":-1.27,"c14":-1.12,"c15":-1.05,"c16":-1.02,"c17":-1.03,"c18":-0.96,"c19":-0.9,"c20":-0.87,"c21":-0.82,"c22":-0.78,"c23":-0.75,"c24":-0.67,"c25":-0.62,"c26":-0.55,"c27":-0.5,"c28":-0.45,"c29":-0.47,"c30":0.1,"c31":0.15,"c32":0.2,"c33":0.18,"c34":0.15,"c35":0.2,"c36":0.25,"c37":0,"c38":-0.1,"c39":0.02,"c40":-0.15,"c41":0.05,"c42":-0.1,"c43":-0.2,"c44":-0.05,"c45":-0.2,"c46":-0.2,"c47":-0.3,"c48":-0.3,"c49":-0.3,"c50":0.25,"c51":0.1,"c52":-0.15,"c53":0.3,"c54":0.2},
  {"t":70,"c01":1.05,"c02":0.98,"c03":0.7,"c04":0.4,"c05":0,"c06":-2.02,"c07":-1.8,"c08":-1.8,"c09":-1.78,"c10":-1.55,"c11":-1.58,"c12":-1.35,"c13":-1.3,"c14":-1.18,"c15":-1.1,"c16":-1.08,"c17":-1.05,"c18":-0.98,"c19":-0.92,"c20":-0.89,"c21":-0.83,"c22":-0.79,"c23":-0.75,"c24":-0.67,"c25":-0.62,"c26":-0.55,"c27":-0.5,"c28":-0.45,"c29":-0.46,"c30":0.2,"c31":0.3,"c32":0.05,"c33":0.1,"c34":0.2,"c35":0.1,"c36":0.1,"c37":0.15,"c38":0.05,"c39":0.03,"c40":-0.05,"c41":-0.1,"c42":0,"c43":-0.15,"c44":-0.2,"c45":-0.1,"c46":-0.25,"c47":-0.22,"c48":-0.35,"c49":-0.28,"c50":0.15,"c51":0.05,"c52":-0.2,"c53":0.25,"c54":0.15},
  {"t":90,"c01":1.28,"c02":1.17,"c03":0.82,"c04":0.41,"c05":-0.2,"c06":-2.03,"c07":-1.9,"c08":-1.82,"c09":-1.8,"c10":-1.58,"c11":-1.6,"c12":-1.36,"c13":-1.32,"c14":-1.2,"c15":-1.12,"c16":-1.1,"c17":-1.06,"c18":-0.99,"c19":-0.93,"c20":-0.9,"c21":-0.83,"c22":-0.8,"c23":-0.75,"c24":-0.67,"c25":-0.62,"c26":-0.55,"c27":-0.5,"c28":-0.45,"c29":-0.46,"c30":0.25,"c31":0.2,"c32":0.15,"c33":0.18,"c34":0.1,"c35":0.25,"c36":0.05,"c37":0.05,"c38":0.12,"c39":0.03,"c40":0.1,"c41":-0.05,"c42":-0.15,"c43":0,"c44":-0.1,"c45":-0.25,"c46":-0.15,"c47":-0.3,"c48":-0.25,"c49":-0.32,"c50":0.3,"c51":0.15,"c52":-0.12,"c53":0.1,"c54":0.22},
  {"t":120,"c01":1.42,"c02":1.34,"c03":1.05,"c04":0.41,"c05":-0.45,"c06":-2.04,"c07":-1.97,"c08":-1.83,"c09":-1.82,"c10":-1.6,"c11":-1.61,"c12":-1.37,"c13":-1.34,"c14":-1.22,"c15":-1.14,"c16":-1.11,"c17":-1.07,"c18":-1.0,"c19":-0.93,"c20":-0.9,"c21":-0.83,"c22":-0.8,"c23":-0.75,"c24":-0.67,"c25":-0.62,"c26":-0.55,"c27":-0.5,"c28":-0.45,"c29":-0.46,"c30":0.3,"c31":0.28,"c32":0.2,"c33":0.08,"c34":0.18,"c35":0.12,"c36":0.15,"c37":-0.05,"c38":0,"c39":0.03,"c40":-0.1,"c41":0.05,"c42":-0.2,"c43":-0.12,"c44":-0.2,"c45":-0.15,"c46":-0.28,"c47":-0.2,"c48":-0.3,"c49":-0.25,"c50":0.2,"c51":0.1,"c52":-0.18,"c53":0.2,"c54":0.1},
  {"t":160,"c01":1.48,"c02":1.44,"c03":1.26,"c04":0.41,"c05":-0.72,"c06":-2.05,"c07":-2.04,"c08":-1.84,"c09":-1.84,"c10":-1.6,"c11":-1.62,"c12":-1.37,"c13":-1.35,"c14":-1.23,"c15":-1.15,"c16":-1.12,"c17":-1.07,"c18":-1.0,"c19":-0.93,"c20":-0.9,"c21":-0.83,"c22":-0.8,"c23":-0.75,"c24":-0.67,"c25":-0.62,"c26":-0.55,"c27":-0.5,"c28":-0.45,"c29":-0.46,"c30":0.3,"c31":0.25,"c32":0.12,"c33":0.2,"c34":0.05,"c35":0.18,"c36":0.1,"c37":0.15,"c38":-0.05,"c39":0.03,"c40":0.05,"c41":-0.12,"c42":-0.05,"c43":-0.2,"c44":-0.1,"c45":-0.1,"c46":-0.2,"c47":-0.28,"c48":-0.35,"c49":-0.3,"c50":0.25,"c51":0.02,"c52":-0.15,"c53":0.25,"c54":0.15},
  {"t":199,"c01":1.5,"c02":1.47,"c03":1.38,"c04":0.41,"c05":-0.78,"c06":-2.06,"c07":-2.07,"c08":-1.84,"c09":-1.85,"c10":-1.6,"c11":-1.62,"c12":-1.37,"c13":-1.35,"c14":-1.23,"c15":-1.15,"c16":-1.12,"c17":-1.07,"c18":-1.0,"c19":-0.93,"c20":-0.9,"c21":-0.83,"c22":-0.8,"c23":-0.75,"c24":-0.67,"c25":-0.62,"c26":-0.55,"c27":-0.5,"c28":-0.45,"c29":-0.46,"c30":0.33,"c31":0.3,"c32":0.22,"c33":0.15,"c34":0.1,"c35":0.08,"c36":0,"c37":0.05,"c38":0.1,"c39":0.03,"c40":-0.05,"c41":0.02,"c42":-0.15,"c43":-0.1,"c44":-0.2,"c45":-0.25,"c46":-0.12,"c47":-0.3,"c48":-0.45,"c49":-0.32,"c50":0.18,"c51":0.12,"c52":-0.15,"c53":0.12,"c54":0.2},
  {"t":202,"c01":1.5,"c02":1.47,"c03":1.39,"c04":0.41,"c05":-0.78,"c06":-2.06,"c07":-2.07,"c08":-1.84,"c09":-1.85,"c10":-1.6,"c11":-1.62,"c12":-1.37,"c13":-1.35,"c14":-1.23,"c15":-1.15,"c16":-1.12,"c17":-1.07,"c18":-1.0,"c19":-0.93,"c20":-0.9,"c21":-0.83,"c22":-0.8,"c23":-0.75,"c24":-0.67,"c25":-0.62,"c26":-0.55,"c27":-0.5,"c28":-0.45,"c29":-0.46,"c30":0.33,"c31":0.3,"c32":0.27,"c33":0.24,"c34":0.2,"c35":0.17,"c36":0.13,"c37":0.1,"c38":0.06,"c39":0.03,"c40":0,"c41":-0.03,"c42":-0.06,"c43":-0.1,"c44":-0.13,"c45":-0.17,"c46":-0.2,"c47":-0.24,"c48":-0.28,"c49":-0.3,"c50":0.22,"c51":0.08,"c52":-0.15,"c53":0.15,"c54":0.18},
  {"t":300,"c01":1.5,"c02":1.49,"c03":1.45,"c04":0.41,"c05":-0.78,"c06":-2.07,"c07":-2.08,"c08":-1.84,"c09":-1.85,"c10":-1.61,"c11":-1.62,"c12":-1.37,"c13":-1.35,"c14":-1.23,"c15":-1.15,"c16":-1.12,"c17":-1.07,"c18":-1.0,"c19":-0.93,"c20":-0.9,"c21":-0.83,"c22":-0.8,"c23":-0.75,"c24":-0.67,"c25":-0.62,"c26":-0.55,"c27":-0.5,"c28":-0.45,"c29":-0.46,"c30":0.33,"c31":0.3,"c32":0.27,"c33":0.24,"c34":0.2,"c35":0.17,"c36":0.13,"c37":0.1,"c38":0.06,"c39":0.03,"c40":0,"c41":-0.03,"c42":-0.06,"c43":-0.1,"c44":-0.13,"c45":-0.17,"c46":-0.2,"c47":-0.24,"c48":-0.28,"c49":-0.3,"c50":0.22,"c51":0.08,"c52":-0.15,"c53":0.15,"c54":0.18}
 ],
 "e": [{"t":0,"v":0},{"t":4.5,"v":-0.74},{"t":9.4,"v":1.35},{"t":14.6,"v":-0.73},{"t":18.4,"v":0.06},{"t":22.6,"v":-0.63},{"t":26.2,"v":0.36},{"t":30.2,"v":-0.62},{"t":34,"v":0.12},{"t":38.2,"v":-0.45},{"t":42.8,"v":0.67},{"t":46.9,"v":-0.48},{"t":50.4,"v":0.5},{"t":54.6,"v":-0.52},{"t":58.2,"v":0.47},{"t":61.8,"v":-0.41},{"t":65.8,"v":0.41},{"t":69.2,"v":-0.37},{"t":73,"v":0.33},{"t":76.8,"v":-0.31},{"t":80.6,"v":0.3},{"t":84.4,"v":-0.3},{"t":88.2,"v":0.28},{"t":92,"v":-0.28},{"t":95.8,"v":0.26},{"t":99.6,"v":-0.27},{"t":103.4,"v":0.24},{"t":107.2,"v":-0.25},{"t":111,"v":0.22},{"t":114.8,"v":-0.23},{"t":118.6,"v":0.21},{"t":122.4,"v":-0.21},{"t":126.2,"v":0.19},{"t":130,"v":-0.19},{"t":133.8,"v":0.17},{"t":137.6,"v":-0.17},{"t":141.4,"v":0.155},{"t":145.2,"v":-0.155},{"t":149,"v":0.14},{"t":152.8,"v":-0.14},{"t":156.6,"v":0.12},{"t":160.4,"v":-0.12},{"t":164.2,"v":0.105},{"t":168,"v":-0.105},{"t":171.8,"v":0.09},{"t":175.6,"v":-0.09},{"t":179.4,"v":0.08},{"t":183.2,"v":-0.075},{"t":187,"v":0.07},{"t":190.8,"v":-0.065},{"t":194.6,"v":0.06},{"t":198.4,"v":-0.055},{"t":202.2,"v":0.055},{"t":206,"v":-0.05},{"t":209.8,"v":0.05},{"t":213.6,"v":-0.045},{"t":217.4,"v":0.045},{"t":221.2,"v":-0.04},{"t":225,"v":0.04},{"t":228.8,"v":-0.04},{"t":232.6,"v":0.04},{"t":236.4,"v":-0.04},{"t":240.2,"v":0.04},{"t":244,"v":-0.04},{"t":247.8,"v":0.04},{"t":251.6,"v":-0.04},{"t":255.4,"v":0.04},{"t":259.2,"v":-0.04},{"t":263,"v":0.04},{"t":266.8,"v":-0.04},{"t":270.6,"v":0.04},{"t":274.4,"v":-0.04},{"t":278.2,"v":0.04},{"t":282,"v":-0.04},{"t":285.8,"v":0.04},{"t":289.6,"v":-0.04},{"t":293.4,"v":0.04},{"t":297.2,"v":-0.04},{"t":300,"v":0.02}],
 "f": [{"t":0,"v":-0.12},{"t":4.5,"v":0.335},{"t":8.7,"v":-0.58},{"t":12.9,"v":0.34},{"t":18,"v":-0.19},{"t":22,"v":0.28},{"t":25.6,"v":-0.32},{"t":29.7,"v":0.285},{"t":33.2,"v":-0.18},{"t":38.4,"v":0.23},{"t":42.2,"v":-0.34},{"t":46,"v":0.35},{"t":50,"v":-0.36},{"t":53.4,"v":0.35},{"t":57.2,"v":-0.355},{"t":61,"v":0.31},{"t":64.6,"v":-0.26},{"t":68.4,"v":0.28},{"t":72.2,"v":-0.22},{"t":75.8,"v":0.23},{"t":79.6,"v":-0.22},{"t":83.7,"v":0.19},{"t":87.4,"v":-0.19},{"t":91.4,"v":0.2},{"t":95.2,"v":-0.2},{"t":99,"v":0.2},{"t":102.8,"v":-0.17},{"t":106.8,"v":0.18},{"t":110.6,"v":-0.17},{"t":114.4,"v":0.15},{"t":118.4,"v":-0.15},{"t":122,"v":0.14},{"t":125.8,"v":-0.13},{"t":129.8,"v":0.13},{"t":133.6,"v":-0.13},{"t":137.4,"v":0.12},{"t":141.2,"v":-0.1},{"t":145,"v":0.11},{"t":148.8,"v":-0.11},{"t":152.6,"v":0.1},{"t":156.4,"v":-0.09},{"t":160.2,"v":0.09},{"t":164,"v":-0.085},{"t":167.8,"v":0.08},{"t":171.6,"v":-0.07},{"t":175.4,"v":0.07},{"t":179.2,"v":-0.065},{"t":183,"v":0.065},{"t":186.8,"v":-0.06},{"t":190.6,"v":0.06},{"t":194.4,"v":-0.06},{"t":198.2,"v":0.06},{"t":202,"v":-0.06},{"t":205.8,"v":0.05},{"t":209.6,"v":-0.045},{"t":213.4,"v":0.045},{"t":217.2,"v":-0.035},{"t":221,"v":0.035},{"t":224.8,"v":-0.03},{"t":228.6,"v":0.03},{"t":232.4,"v":-0.03},{"t":236.2,"v":0.03},{"t":240,"v":-0.03},{"t":243.8,"v":0.03},{"t":247.6,"v":-0.03},{"t":251.4,"v":0.03},{"t":255.2,"v":-0.03},{"t":259,"v":0.03},{"t":262.8,"v":-0.03},{"t":266.6,"v":0.03},{"t":270.4,"v":-0.03},{"t":274.2,"v":0.03},{"t":278,"v":-0.03},{"t":281.8,"v":0.03},{"t":285.6,"v":-0.03},{"t":289.4,"v":0.03},{"t":293.2,"v":-0.03},{"t":297,"v":0.03},{"t":300,"v":-0.02}]
},
"columns": 3,
"spacing": {"row": 128, "column": 118},
"bounds": "flush",
"resolve": {"scale": {"strokeDash": "independent", "color": "independent"}, "legend": {"strokeDash": "independent"}},
"concat": [
  {"width": 286, "height": 239, "title": {"text": "(a) Eigenaxis attitude error."},
   "data": {"name": "a"},
   "mark": {"type": "line", "interpolate": "monotone", "strokeWidth": 1.5, "color": "black", "clip": true},
   "encoding": {
    "x": {"field": "t", "type": "quantitative", "scale": {"domain": [0,300], "nice": false}, "axis": {"values": [0,50,100,150,200,250,300], "title": "Time (sec)"}},
    "y": {"field": "v", "type": "quantitative", "scale": {"domain": [0,3.5], "nice": false, "zero": false}, "axis": {"values": [0,0.5,1,1.5,2,2.5,3,3.5], "title": "Eigenaxis Attitude Error (rad)", "titlePadding": 1}},
    "strokeDash": {"datum": "θ", "type": "nominal", "scale": {"domain": ["θ"], "range": [[1,0]]}, "legend": {"title": null}}
   }},
  {"width": 286, "height": 239, "title": {"text": "(b) Angular velocity components."},
   "data": {"name": "b"},
   "mark": {"type": "line", "interpolate": "monotone", "strokeWidth": 1, "color": "black", "clip": true},
   "encoding": {
    "x": {"field": "t", "type": "quantitative", "scale": {"domain": [0,300], "nice": false}, "axis": {"values": [0,50,100,150,200,250,300], "title": "Time (sec)"}},
    "y": {"field": "v", "type": "quantitative", "scale": {"domain": [-0.8,1], "nice": false, "zero": false}, "axis": {"values": [-0.8,-0.6,-0.4,-0.2,0,0.2,0.4,0.6,0.8,1], "title": "Angular Velocity (rad/sec)", "titlePadding": 1}},
    "strokeDash": {"field": "s", "type": "nominal", "scale": {"domain": ["ω₁","ω₂","ω₃"], "range": [[1,0],[5,3],[7,3,2,3]]}, "legend": {"title": null}}
   }},
  {"width": 286, "height": 239, "title": {"text": "(c) Torque input."},
   "encoding": {
    "x": {"field": "t", "type": "quantitative", "scale": {"domain": [0,300], "nice": false}, "axis": {"values": [0,50,100,150,200,250,300], "title": "Time (sec)"}},
    "y": {"field": "v", "type": "quantitative", "scale": {"domain": [-0.8,0.6], "nice": false, "zero": false}, "axis": {"values": [-0.8,-0.6,-0.4,-0.2,0,0.2,0.4,0.6], "title": "Torque Input (N-m)", "titlePadding": 3}}
   },
   "layer": [
    {"data": {"name": "u1"}, "mark": {"type": "line", "strokeWidth": 2.2, "color": "black", "clip": true, "strokeJoin": "bevel"},
     "encoding": {"strokeDash": {"datum": "u₁", "type": "nominal", "scale": {"domain": ["u₁","u₂","u₃"], "range": [[1,0],[5,3],[7,3,2,3]]}, "legend": {"title": null, "symbolStrokeWidth": 1}}}},
    {"data": {"name": "u2"}, "mark": {"type": "line", "strokeWidth": 1.5, "color": "black", "clip": true, "strokeJoin": "bevel"},
     "encoding": {"strokeDash": {"datum": "u₂", "type": "nominal", "scale": {"domain": ["u₁","u₂","u₃"], "range": [[1,0],[5,3],[7,3,2,3]]}, "legend": {"title": null, "symbolStrokeWidth": 1}}}},
    {"data": {"name": "u3"}, "mark": {"type": "line", "strokeWidth": 1.5, "color": "black", "clip": true, "strokeJoin": "bevel"},
     "encoding": {"strokeDash": {"datum": "u₃", "type": "nominal", "scale": {"domain": ["u₁","u₂","u₃"], "range": [[1,0],[5,3],[7,3,2,3]]}, "legend": {"title": null, "symbolStrokeWidth": 1}}}}
   ]},
  {"width": 286, "height": 239, "title": {"text": "(d) Controller coefficients."},
   "data": {"name": "d"},
   "transform": [{"fold": ["c01","c02","c03","c04","c05","c06","c07","c08","c09","c10","c11","c12","c13","c14","c15","c16","c17","c18","c19","c20","c21","c22","c23","c24","c25","c26","c27","c28","c29","c30","c31","c32","c33","c34","c35","c36","c37","c38","c39","c40","c41","c42","c43","c44","c45","c46","c47","c48","c49","c50","c51","c52","c53","c54"], "as": ["k","v"]}],
   "mark": {"type": "line", "strokeWidth": 1, "clip": true},
   "encoding": {
    "x": {"field": "t", "type": "quantitative", "scale": {"domain": [0,300], "nice": false}, "axis": {"values": [0,50,100,150,200,250,300], "title": "Time (sec)"}},
    "y": {"field": "v", "type": "quantitative", "scale": {"domain": [-2.5,2], "nice": false, "zero": false}, "axis": {"values": [-2.5,-2,-1.5,-1,-0.5,0,0.5,1,1.5,2], "title": "Controller Parameters", "titlePadding": 0}},
    "color": {"field": "k", "type": "nominal", "legend": null, "scale": {"domain": ["c01","c02","c03","c04","c05","c06","c07","c08","c09","c10","c11","c12","c13","c14","c15","c16","c17","c18","c19","c20","c21","c22","c23","c24","c25","c26","c27","c28","c29","c30","c31","c32","c33","c34","c35","c36","c37","c38","c39","c40","c41","c42","c43","c44","c45","c46","c47","c48","c49","c50","c51","c52","c53","c54"],
     "range": ["#008000","#00bfbf","#bfbf00","#00bfbf","#00bfbf","#008000","#bf00bf","#bfbf00","#008000","#ff0000","#ff0000","#404040","#ff0000","#404040","#00bfbf","#00bfbf","#0000ff","#bf00bf","#0000ff","#0000ff","#bfbf00","#008000","#ff0000","#bf00bf","#00bfbf","#0000ff","#bf00bf","#bf00bf","#008000","#bf00bf","#0000ff","#008000","#ff0000","#00bfbf","#0000ff","#bfbf00","#008000","#ff0000","#404040","#0000ff","#bf00bf","#ff0000","#00bfbf","#008000","#0000ff","#ff0000","#bf00bf","#bfbf00","#0000ff","#00bfbf","#bfbf00","#404040","#008000","#ff0000"]}}
   }},
  {"width": 286, "height": 239, "title": {"text": "(e) Lumped mass position."},
   "data": {"name": "e"},
   "mark": {"type": "line", "interpolate": "monotone", "strokeWidth": 1.6, "color": "black", "clip": true},
   "encoding": {
    "x": {"field": "t", "type": "quantitative", "scale": {"domain": [0,300], "nice": false}, "axis": {"values": [0,50,100,150,200,250,300], "title": "Time (sec)"}},
    "y": {"field": "v", "type": "quantitative", "scale": {"domain": [-1,1.5], "nice": false, "zero": false}, "axis": {"values": [-1,-0.5,0,0.5,1,1.5], "title": "Position Proof-Mass (m)", "titlePadding": 1}}
   }},
  {"width": 286, "height": 239, "title": {"text": "(f) Lumped mass velocity."},
   "data": {"name": "f"},
   "mark": {"type": "line", "interpolate": "monotone", "strokeWidth": 1.6, "color": "black", "clip": true},
   "encoding": {
    "x": {"field": "t", "type": "quantitative", "scale": {"domain": [0,300], "nice": false}, "axis": {"values": [0,50,100,150,200,250,300], "title": "Time (sec)"}},
    "y": {"field": "v", "type": "quantitative", "scale": {"domain": [-0.6,0.4], "nice": false, "zero": false}, "axis": {"values": [-0.6,-0.5,-0.4,-0.3,-0.2,-0.1,0,0.1,0.2,0.3,0.4], "title": "Position Proof-Mass (m)", "titlePadding": 3}}
   }}
]
}
